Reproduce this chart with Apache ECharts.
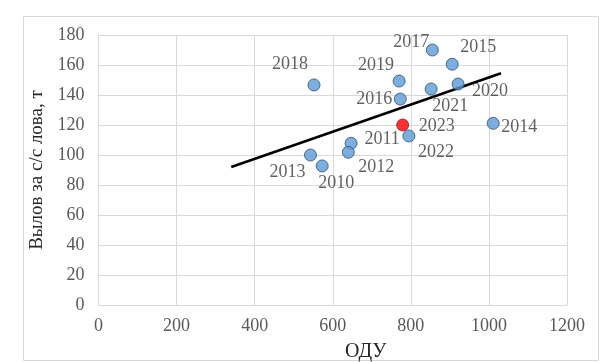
<!DOCTYPE html>
<html><head><meta charset="utf-8">
<script src="https://cdn.jsdelivr.net/npm/echarts@6/dist/echarts.min.js"></script>
<style>html,body{margin:0;padding:0;background:#fff}#c{width:612px;height:362px}</style>
</head><body><div id="c"></div>
<script>
// Data
const years = ['2018','2017','2015','2019','2016','2021','2020','2022','2014','2011','2012','2013','2010'];
const odu   = [552, 855, 906, 770, 773, 852, 921, 795, 1011, 647, 640, 543, 573];
const catch_ = [146.7, 170, 160.5, 149.3, 137.3, 144, 147.3, 112.7, 121.1, 107.8, 101.8, 100, 92.7];
const highlightYear = ['2023'];
const highlightOdu = [779];
const highlightCatch = [120];
const trendX = [340, 1031];
const trendY = [92, 154.5];
const xTicks = [0, 200, 400, 600, 800, 1000, 1200];
const yTicks = [0, 20, 40, 60, 80, 100, 120, 140, 160, 180];

// Layout: label offsets (px) relative to the point centre
const labelOffsets = {
  '2018': [-24, -21], '2017': [-21, -8], '2015': [26, -17], '2019': [-23, -16],
  '2016': [-26, 0], '2021': [19, 17], '2020': [32, 7], '2022': [27, 16],
  '2014': [26, 4], '2011': [31, -4], '2012': [28, 15], '2013': [-23, 17],
  '2010': [14, 17], '2023': [34, 1]
};

const font = '"Liberation Serif", "Times New Roman", serif';
const lblStyle = (y) => ({
  show: true, position: 'inside', offset: labelOffsets[y], formatter: y,
  fontFamily: font, fontSize: 18, color: '#3A3A3A'
});

const mainData = years.map((y, i) => ({ value: [odu[i], catch_[i]], label: lblStyle(y) }));
const hiData = highlightYear.map((y, i) => ({ value: [highlightOdu[i], highlightCatch[i]], label: lblStyle(y) }));
const trendData = trendX.map((x, i) => [x, trendY[i]]);

const chart = echarts.init(document.getElementById('c'), null, { renderer: 'canvas' });
chart.setOption({
  animation: false,
  backgroundColor: '#fff',
  graphic: [{
    type: 'rect', shape: { x: 23.5, y: 16.5, width: 575, height: 344 },
    style: { fill: 'none', stroke: '#D9D9D9', lineWidth: 1 }, z: -1
  }],
  grid: { left: 98.5, top: 35, right: 45, bottom: 57, containLabel: false, outerBoundsMode: 'none' },
  xAxis: {
    type: 'value', min: xTicks[0], max: xTicks[xTicks.length - 1], interval: xTicks[1] - xTicks[0],
    name: 'ОДУ', nameLocation: 'middle', nameGap: 37,
    nameTextStyle: { fontFamily: font, fontSize: 20, color: '#262626', padding: [0, 0, 0, 66] },
    axisLine: { show: true, lineStyle: { color: '#D9D9D9' } },
    axisTick: { show: false },
    axisLabel: { fontFamily: font, fontSize: 18, color: '#595959', margin: 12, formatter: (v) => String(v) },
    splitLine: { show: true, lineStyle: { color: '#D9D9D9' } }
  },
  yAxis: {
    type: 'value', min: yTicks[0], max: yTicks[yTicks.length - 1], interval: yTicks[1] - yTicks[0],
    name: 'Вылов за с/с лова, т', nameLocation: 'middle', nameGap: 50, nameRotate: 90,
    nameTextStyle: { fontFamily: font, fontSize: 19, color: '#262626' },
    axisLine: { show: true, lineStyle: { color: '#D9D9D9' } },
    axisTick: { show: false },
    axisLabel: { fontFamily: font, fontSize: 18, color: '#595959', margin: 14, formatter: (v) => String(v) },
    splitLine: { show: true, lineStyle: { color: '#D9D9D9' } }
  },
  series: [
    {
      type: 'line', data: trendData, symbol: 'none', silent: true,
      lineStyle: { color: '#000', width: 2.5 }, z: 1
    },
    {
      type: 'scatter', data: mainData, symbolSize: 12,
      itemStyle: { color: '#5B9BD5', borderColor: '#2F4F7A', borderWidth: 1 }, z: 3
    },
    {
      type: 'scatter', data: hiData, symbolSize: 12,
      itemStyle: { color: '#FF0000', borderColor: '#7F2020', borderWidth: 1 }, z: 3
    }
  ]
});
</script>
</body></html>
